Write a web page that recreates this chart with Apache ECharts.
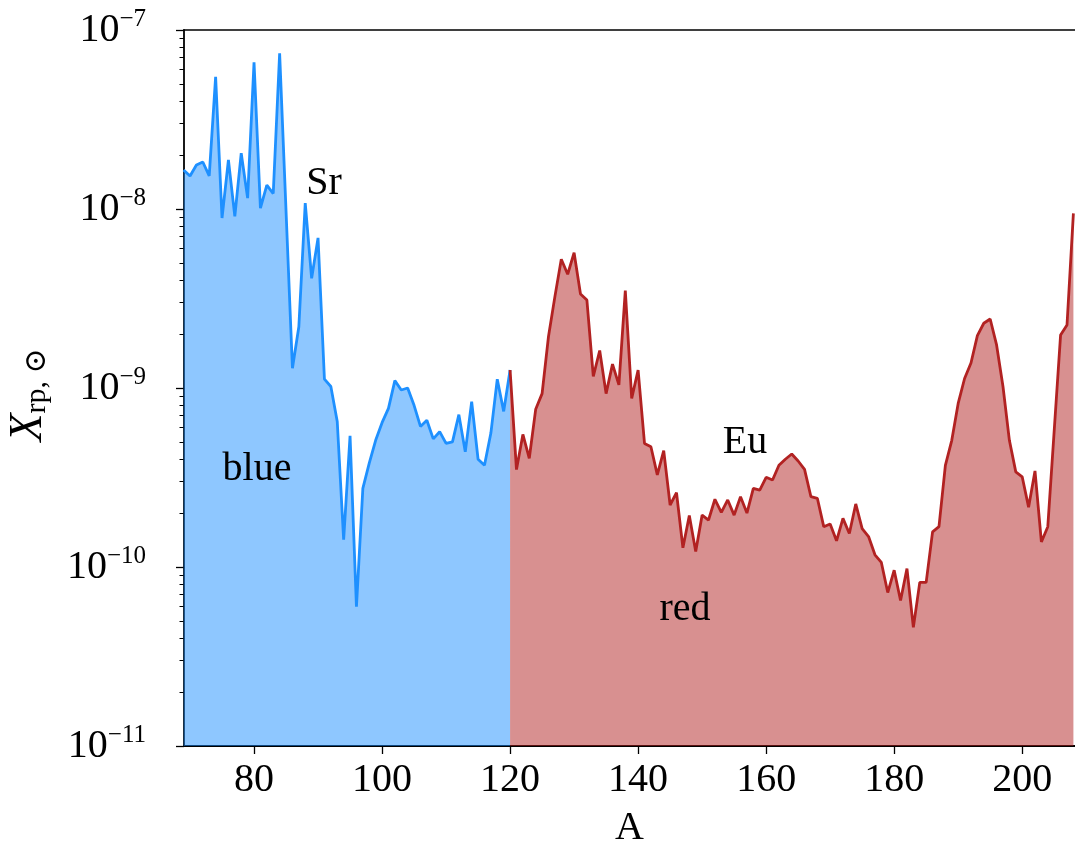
<!DOCTYPE html>
<html>
<head>
<meta charset="utf-8">
<script src="https://cdn.jsdelivr.net/npm/echarts@6/dist/echarts.min.js"></script>
<style>
html, body { margin: 0; padding: 0; background: #fff; }
#chart { width: 1075px; height: 849px; }
</style>
</head>
<body>
<div id="chart"></div>
<script>
var blueA = [69, 70, 71, 72, 73, 74, 75, 76, 77, 78, 79, 80, 81, 82, 83, 84,
	86, 87, 88, 89, 90, 91, 92, 93, 94, 95, 96, 97, 98, 99, 100, 101, 102, 103,
	104, 105, 106, 107, 108, 109, 110, 111, 112, 113, 114, 115, 116, 117, 118, 119, 120];
var blueX = [1.65e-8, 1.53e-8, 1.76e-8, 1.83e-8, 1.53e-8, 5.48e-8, 8.9e-9, 1.88e-8, 9.1e-9, 2.05e-8,
	1.15e-8, 6.6e-8, 1.01e-8, 1.36e-8, 1.22e-8, 7.4e-8,
	1.29e-9, 2.2e-9, 1.08e-8, 4.1e-9, 6.9e-9, 1.12e-9, 1.02e-9, 6.5e-10, 1.42e-10, 5.4e-10,
	6.0e-11, 2.75e-10, 3.8e-10, 5.1e-10, 6.4e-10, 7.7e-10, 1.10e-9, 9.75e-10,
	1.0e-9, 8.0e-10, 6.1e-10, 6.6e-10, 5.2e-10, 5.7e-10, 4.9e-10, 5.0e-10, 7.1e-10, 4.4e-10,
	8.4e-10, 4.0e-10, 3.7e-10, 5.6e-10, 1.12e-9, 7.4e-10, 1.26e-9];

var redA = [120, 121, 122, 123, 124, 125, 126, 127, 128, 129, 130, 131, 132, 133, 134, 135, 136,
	137, 138, 139, 140, 141, 142, 143, 144, 145, 146, 147, 148, 149, 150, 151, 152, 153, 154,
	155, 156, 157, 158, 159, 160, 161, 162, 163, 164, 165, 166, 167, 168, 169, 170, 171, 172,
	173, 174, 175, 176, 177, 178, 179, 180, 181, 182, 183, 184, 185, 186, 187, 188, 189, 190,
	191, 192, 193, 194, 195, 196, 197, 198, 199, 200, 201, 202, 203, 204, 206, 207, 208];
var redX = [1.26e-9, 3.5e-10, 5.5e-10, 4.05e-10, 7.6e-10, 9.3e-10, 1.94e-9, 3.24e-9, 5.24e-9, 4.32e-9,
	5.7e-9, 3.35e-9, 3.1e-9, 1.16e-9, 1.62e-9, 9.3e-10, 1.36e-9,
	1.04e-9, 3.5e-9, 8.75e-10, 1.26e-9, 4.9e-10, 4.7e-10, 3.27e-10, 4.47e-10, 2.22e-10, 2.6e-10,
	1.28e-10, 1.94e-10, 1.22e-10, 1.95e-10, 1.83e-10, 2.39e-10, 2.02e-10, 2.37e-10,
	1.95e-10, 2.47e-10, 2.0e-10, 2.75e-10, 2.69e-10, 3.17e-10, 3.06e-10, 3.7e-10, 4.0e-10,
	4.28e-10, 3.91e-10, 3.51e-10, 2.47e-10, 2.42e-10, 1.68e-10, 1.74e-10, 1.40e-10, 1.87e-10,
	1.54e-10, 2.25e-10, 1.64e-10, 1.48e-10, 1.17e-10, 1.06e-10, 7.2e-11, 9.6e-11, 6.5e-11,
	9.8e-11, 4.6e-11, 8.2e-11, 8.2e-11, 1.57e-10, 1.68e-10, 3.7e-10, 5.1e-10, 8.2e-10,
	1.13e-9, 1.38e-9, 1.96e-9, 2.3e-9, 2.43e-9, 1.74e-9, 1.02e-9, 5.1e-10, 3.4e-10, 3.19e-10,
	2.16e-10, 3.44e-10, 1.38e-10, 1.68e-10, 1.98e-9, 2.25e-9, 9.46e-9];

var xTicks = [80, 100, 120, 140, 160, 180, 200];
var yTickExp = [-11, -10, -9, -8, -7];

var serif = '"Liberation Serif", "DejaVu Serif", serif';

function pairs(xs, ys) {
	return xs.map(function (x, i) { return [x, ys[i]]; });
}

var minorExp = [];
for (var n = yTickExp[0]; n < yTickExp[yTickExp.length - 1]; n++) {
	for (var k = 2; k <= 9; k++) {
		minorExp.push(n + Math.log10(k));
	}
}

var chart = echarts.init(document.getElementById('chart'), null, { renderer: 'canvas' });

chart.setOption({
	animation: false,
	backgroundColor: '#fff',
	grid: { left: 184, right: 0, top: 30, bottom: 103, outerBoundsMode: 'none', containLabel: false },
	xAxis: [
		{
			type: 'value',
			position: 'bottom',
			min: 69.06,
			max: 208.25,
			axisLine: { onZero: false, lineStyle: { color: '#000', width: 1.8 } },
			axisTick: { customValues: xTicks, length: 8, lineStyle: { color: '#000', width: 1.3 } },
			axisLabel: { customValues: xTicks, margin: 14, color: '#000', fontSize: 40, fontFamily: serif },
			splitLine: { show: false },
			name: 'A',
			nameLocation: 'middle',
			nameGap: 62,
			nameTextStyle: { color: '#000', fontSize: 40, fontFamily: serif }
		},
		{
			type: 'value',
			position: 'top',
			min: 69.06,
			max: 208.25,
			axisLine: { onZero: false, lineStyle: { color: '#000', width: 1.6 } },
			axisTick: { show: false },
			axisLabel: { show: false },
			splitLine: { show: false }
		}
	],
	yAxis: [
		{
			type: 'log',
			position: 'left',
			min: 1e-11,
			max: 1e-7,
			axisLine: { onZero: false, lineStyle: { color: '#000', width: 1.8 } },
			axisTick: { show: false },
			axisLabel: { show: false },
			splitLine: { show: false }
		},
		{
			type: 'value',
			position: 'left',
			min: yTickExp[0],
			max: yTickExp[yTickExp.length - 1],
			interval: 1,
			axisLine: { show: false },
			axisTick: { length: 8, lineStyle: { color: '#000', width: 1.3 } },
			axisLabel: {
				margin: 38,
				formatter: function (e) {
					return '{b|10}{s|\u2212' + Math.abs(Math.round(e)) + '}';
				},
				rich: {
					b: { fontSize: 40, lineHeight: 40, fontFamily: serif, color: '#000', verticalAlign: 'bottom' },
					s: { fontSize: 25, lineHeight: 25, fontFamily: serif, color: '#000', verticalAlign: 'bottom', padding: [0, 0, 18, 0] }
				}
			},
			splitLine: { show: false }
		},
		{
			type: 'value',
			position: 'left',
			min: yTickExp[0],
			max: yTickExp[yTickExp.length - 1],
			axisLine: { show: false },
			axisTick: { customValues: minorExp, length: 4.5, lineStyle: { color: '#000', width: 1 } },
			axisLabel: { show: false },
			splitLine: { show: false }
		}
	],
	series: [
		{
			name: 'blue',
			type: 'line',
			xAxisIndex: 0,
			yAxisIndex: 0,
			data: pairs(blueA, blueX),
			showSymbol: false,
			lineStyle: { color: '#1e90ff', width: 2.8 },
			itemStyle: { color: '#1e90ff' },
			areaStyle: { origin: 'start', color: '#1e90ff', opacity: 0.5 }
		},
		{
			name: 'red',
			type: 'line',
			xAxisIndex: 0,
			yAxisIndex: 0,
			data: pairs(redA, redX),
			showSymbol: false,
			lineStyle: { color: '#b22222', width: 2.8 },
			itemStyle: { color: '#b22222' },
			areaStyle: { origin: 'start', color: '#b22222', opacity: 0.5 }
		}
	],
	graphic: [
		{ type: 'text', z: 100, style: { text: 'Sr', x: 324, y: 183, fontSize: 40, fontFamily: serif, fill: '#000', align: 'center', verticalAlign: 'middle' } },
		{ type: 'text', z: 100, style: { text: 'blue', x: 257, y: 469, fontSize: 40, fontFamily: serif, fill: '#000', align: 'center', verticalAlign: 'middle' } },
		{ type: 'text', z: 100, style: { text: 'red', x: 685, y: 609, fontSize: 40, fontFamily: serif, fill: '#000', align: 'center', verticalAlign: 'middle' } },
		{ type: 'text', z: 100, style: { text: 'Eu', x: 745, y: 442, fontSize: 40, fontFamily: serif, fill: '#000', align: 'center', verticalAlign: 'middle' } },
		{
			type: 'text',
			z: 100,
			x: 29,
			y: 395,
			rotation: Math.PI / 2,
			style: {
				text: '{x|X}{s|rp, \u2299}',
				align: 'center',
				verticalAlign: 'middle',
				rich: {
					x: { fontSize: 46, lineHeight: 46, fontStyle: 'italic', fontFamily: serif, fill: '#000', verticalAlign: 'bottom' },
					s: { fontSize: 30, lineHeight: 30, fontFamily: serif, fill: '#000', verticalAlign: 'bottom' }
				}
			}
		}
	]
});
</script>
</body>
</html>
